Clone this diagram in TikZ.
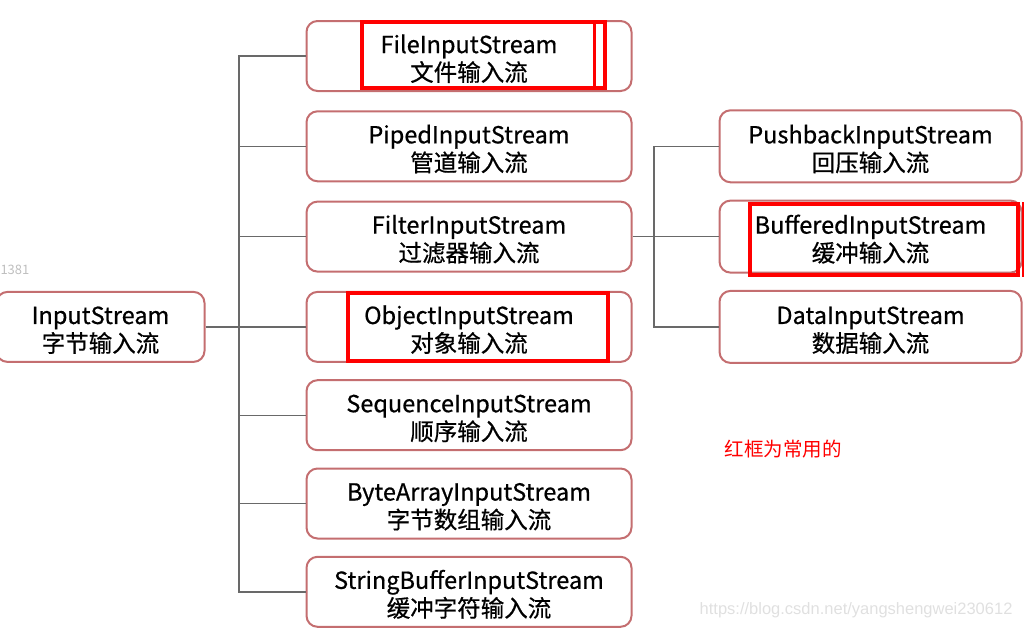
\documentclass[tikz,border=0pt]{standalone}
\usepackage{fontspec}
\setmainfont{Noto Sans CJK SC}
\newfontfamily\boxfont[FakeBold=0.6]{Noto Sans CJK SC}
\newfontfamily\urlfont{Liberation Sans}
\usetikzlibrary{positioning}
\definecolor{boxred}{RGB}{196,110,112}
\definecolor{linegray}{RGB}{105,105,105}
\definecolor{markred}{RGB}{255,0,0}
\tikzset{stream/.style={draw=boxred,line width=2pt,rounded corners=11pt,fill=white,
                        align=center,inner sep=0pt,font=\boxfont\fontsize{23.5}{28}\selectfont,
                        text height=52pt},
         conn/.style={draw=linegray,line width=1.4pt},
         hl/.style={draw=markred,line width=4.5pt}}

\begin{document}
\begin{tikzpicture}[x=1pt,y=-1pt]
\useasboundingbox (0,0) rectangle (1024,630);

\node[stream,minimum width=325pt,minimum height=70pt] (FIS) at (469,56) {FileInputStream\\文件输入流};
\node[stream,minimum width=325pt,minimum height=70pt,below=18.3pt of FIS] (PIS) {PipedInputStream\\管道输入流};
\node[stream,minimum width=325pt,minimum height=70pt,below=18.3pt of PIS] (FLIS) {FilterInputStream\\过滤器输入流};
\node[stream,minimum width=325pt,minimum height=70pt,below=18.3pt of FLIS] (OIS) {ObjectInputStream\\对象输入流};
\node[stream,minimum width=325pt,minimum height=70pt,below=16.3pt of OIS] (SIS) {SequenceInputStream\\顺序输入流};
\node[stream,minimum width=325pt,minimum height=70pt,below=16.3pt of SIS] (BAIS) {ByteArrayInputStream\\字节数组输入流};
\node[stream,minimum width=325pt,minimum height=70pt,below=16.3pt of BAIS] (SBIS) {StringBufferInputStream\\缓冲字符输入流};

\node[stream,minimum width=208pt,minimum height=70pt,left=100pt of OIS] (IS) {InputStream\\字节输入流};

\node[stream,minimum width=302pt,minimum height=72pt,right=86pt of PIS] (PBIS) {PushbackInputStream\\回压输入流};
\node[stream,minimum width=302pt,minimum height=72pt,right=86pt of FLIS] (BIS) {BufferedInputStream\\缓冲输入流};
\node[stream,minimum width=302pt,minimum height=72pt,right=86pt of OIS] (DIS) {DataInputStream\\数据输入流};

\coordinate (spine) at (239,0);
\coordinate (spine2) at (654,0);

\draw[conn] (FIS.west) -- (FIS.west -| spine) |- (SBIS.west);
\foreach \n in {PIS,FLIS,SIS,BAIS}
  {\draw[conn] (\n.west -| spine) -- (\n.west);}
\draw[conn] (IS.east) -- (OIS.west);

\draw[conn] (PBIS.west) -- (PBIS.west -| spine2) |- (DIS.west);
\draw[conn] (FLIS.east) -- (BIS.west);

% red frames
\draw[hl] (362,22) rectangle (605,88);
\draw[markred,line width=3pt] (594,22) -- (594,88);
\draw[hl] (348,293) rectangle (608,361);
\draw[hl] (750,204) rectangle (1018,275);
\draw[markred,line width=3pt] (1023,202) -- (1023,277);

\node[text=markred,font=\fontsize{19.5}{22}\selectfont,anchor=west] (note) at (721,449) {红框为常用的};
\node[text=black!25,font=\fontsize{13}{14}\selectfont,anchor=west] (num) at (-3,270) {1381};
\node[text=black!12,font=\urlfont\fontsize{16.5}{18}\selectfont,anchor=east] (wm) at (1016,610) {https://blog.csdn.net/yangshengwei230612};
\end{tikzpicture}
\end{document}
